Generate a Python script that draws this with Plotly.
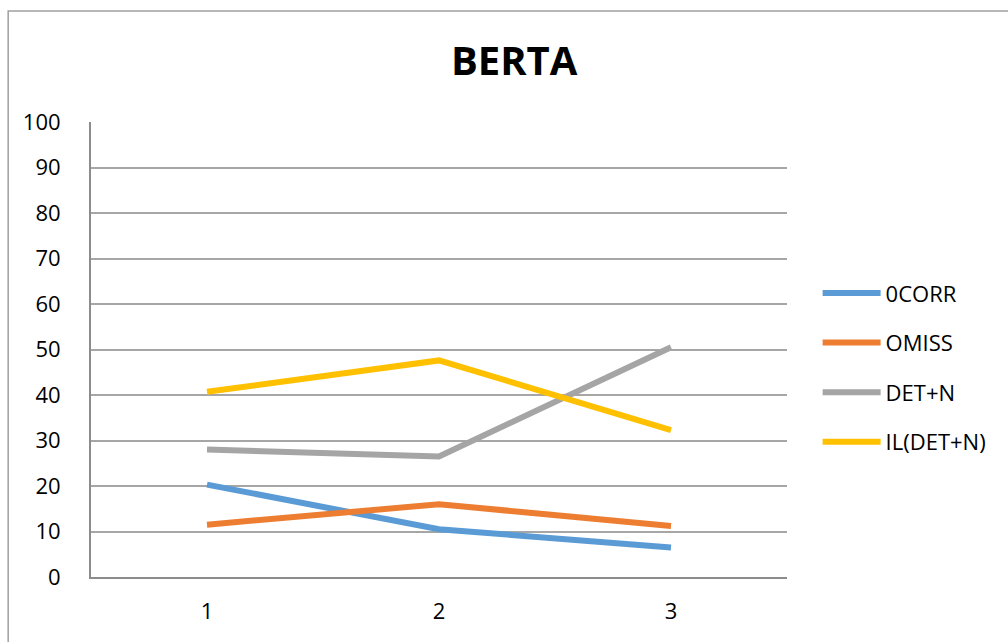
import plotly.graph_objects as go

categories = ["1", "2", "3"]
corr0 = [20.3, 10.5, 6.5]
omiss = [11.5, 16.0, 11.2]
det_n = [28.0, 26.5, 50.5]
il_det_n = [40.7, 47.6, 32.3]

series_names = ["0CORR", "OMISS", "DET+N", "IL(DET+N)"]
series_values = [corr0, omiss, det_n, il_det_n]
colors = ["#5B9BD5", "#ED7D31", "#A5A5A5", "#FFC000"]

fig = go.Figure()
for name, vals, col in zip(series_names, series_values, colors):
    fig.add_trace(go.Scatter(
        x=categories, y=vals, name=name, mode="lines",
        line=dict(color=col, width=6), legendgroup=name,
    ))

font_family = "Open Sans, Liberation Sans, sans-serif"

fig.update_layout(
    width=1008, height=642,
    margin=dict(l=91, r=221, t=122, b=65),
    paper_bgcolor="white", plot_bgcolor="white",
    font=dict(family=font_family, size=22, color="#000000"),
    title=dict(text="<b>BERTA</b>", x=0.608, xref="paper", xanchor="center",
               y=0.905, yref="container", yanchor="middle",
               font=dict(family=font_family, size=40, color="#000000")),
    showlegend=True,
    legend=dict(x=1.044, xanchor="left", y=0.46, yanchor="middle",
                font=dict(size=22), tracegroupgap=18, itemwidth=58,
                bgcolor="rgba(0,0,0,0)"),
    xaxis=dict(type="category", range=[-0.5, 2.5], showgrid=False,
               showline=True, linecolor="#8C8C8C", linewidth=2,
               ticks="", ticklabelstandoff=14, zeroline=False),
    yaxis=dict(range=[0, 100], dtick=10, showgrid=True, gridcolor="#A6A6A6",
               gridwidth=1.5, showline=True, linecolor="#8C8C8C", linewidth=2,
               ticks="", ticklabelstandoff=24, zeroline=False),
)

# chart outer border
fig.add_shape(type="rect", xref="paper", yref="paper",
              x0=-0.119, x1=1.5, y0=-0.5, y1=1.244,
              line=dict(color="#A0A0A0", width=1.5), fillcolor="rgba(0,0,0,0)",
              layer="below")

fig.write_html("out.html", config={"displayModeBar": False},
               post_script="document.body.style.margin='0';document.body.style.padding='0';document.body.style.overflow='hidden';")
